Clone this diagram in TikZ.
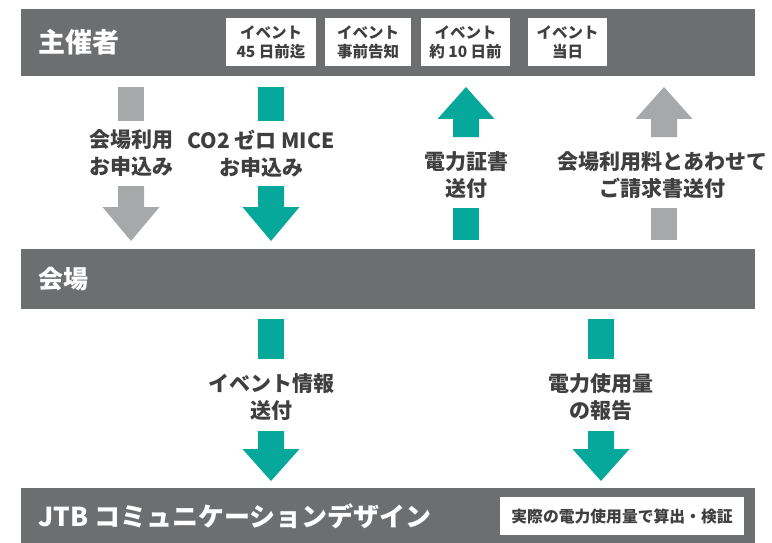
\documentclass[tikz,border=0pt]{standalone}
\usepackage{fontspec}
\setmainfont{Noto Sans CJK JP}
\definecolor{barGray}{HTML}{6D6E70}
\definecolor{tealC}{HTML}{07A89C}
\definecolor{lgrayC}{HTML}{A7A8AA}
\definecolor{txtC}{HTML}{3F3F3F}
\newcommand\DnArrow[5]{% color, cx, stemtop, base, tip
  \fill[#1] ({#2-13},#3) -- ({#2+13},#3) -- ({#2+13},#4) -- ({#2+28.5},#4) -- (#2,#5) -- ({#2-28.5},#4) -- ({#2-13},#4) -- cycle;}
\newcommand\UpArrow[5]{% color, cx, stembottom, base, tip
  \fill[#1] ({#2-13},#3) -- ({#2+13},#3) -- ({#2+13},#4) -- ({#2+28.5},#4) -- (#2,#5) -- ({#2-28.5},#4) -- ({#2-13},#4) -- cycle;}
\newcommand\Sq[4]{\fill[#1] ({#2-13},#3) rectangle ({#2+13},#4);}
\begin{document}
\begin{tikzpicture}[x=1pt,y=-1pt,font=\bfseries,
  bar/.style={fill=barGray,draw=none,inner sep=0pt,anchor=north west,minimum width=734pt},
  bartext/.style={text=white,anchor=west,inner sep=0pt,font=\fontsize{#1}{#1}\selectfont\bfseries},
  wbox/.style={fill=white,draw=none,inner sep=0pt,text=txtC,align=center},
  lbl/.style={text=txtC,align=center,inner sep=0pt,font=\fontsize{21}{27}\selectfont\bfseries}]
\useasboundingbox (0,0) rectangle (772,543);
\fill[white] (0,0) rectangle (772,543);
% bars
\node[bar,minimum height=67pt] (host) at (21,9) {};
\node[bartext=27] (hostT) at (38,42) {主催者};
\node[bar,minimum height=60pt] (venue) at (21,249) {};
\node[bartext=25] (venueT) at (38,279) {会場};
\node[bar,minimum height=55pt] (jtb) at (21,488) {};
\node[bartext=26] (jtbT) at (38,516) {JTB コミュニケーションデザイン};
% timeline boxes
\begin{scope}[every node/.style={wbox,minimum height=48pt,font=\fontsize{15.5}{19}\selectfont\bfseries}]
\node[minimum width=90pt] (t1) at (271,42) {イベント\\45 日前迄};
\node[minimum width=86pt] (t2) at (368,42) {イベント\\事前告知};
\node[minimum width=89pt] (t3) at (465.5,42) {イベント\\約 10 日前};
\node[minimum width=79pt] (t4) at (567.5,42) {イベント\\当日};
\end{scope}
\node[wbox,minimum width=244pt,minimum height=38pt,font=\fontsize{15.8}{18}\selectfont\bfseries] (calc) at (622,516) {実際の電力使用量で算出・検証};
% arrow 1 (gray down)
\Sq{lgrayC}{131}{87}{121}
\DnArrow{lgrayC}{131}{186}{207}{241}
\node[lbl] (l1) at (131,153.5) {会場利用\\お申込み};
% arrow 2 (teal down)
\Sq{tealC}{271}{87}{121}
\DnArrow{tealC}{271}{186}{207}{241}
\node[lbl] (l2) at (261,153.5) {CO2 ゼロ MICE\\お申込み};
% arrow 3 (teal up)
\UpArrow{tealC}{466}{137}{119}{87}
\Sq{tealC}{466}{208}{240}
\node[lbl] (l3) at (466,175) {電力証書\\送付};
% arrow 4 (gray up)
\UpArrow{lgrayC}{664}{137}{119}{87}
\Sq{lgrayC}{664}{208}{240}
\node[lbl] (l4) at (662,175) {会場利用料とあわせて\\ご請求書送付};
% arrow 5 (teal down)
\Sq{tealC}{271}{319}{359}
\DnArrow{tealC}{271}{431}{449}{481}
\node[lbl] (l5) at (271,397.5) {イベント情報\\送付};
% arrow 6 (teal down)
\Sq{tealC}{601}{319}{359}
\DnArrow{tealC}{601}{431}{449}{481}
\node[lbl] (l6) at (601,397.5) {電力使用量\\の報告};
\end{tikzpicture}
\end{document}
